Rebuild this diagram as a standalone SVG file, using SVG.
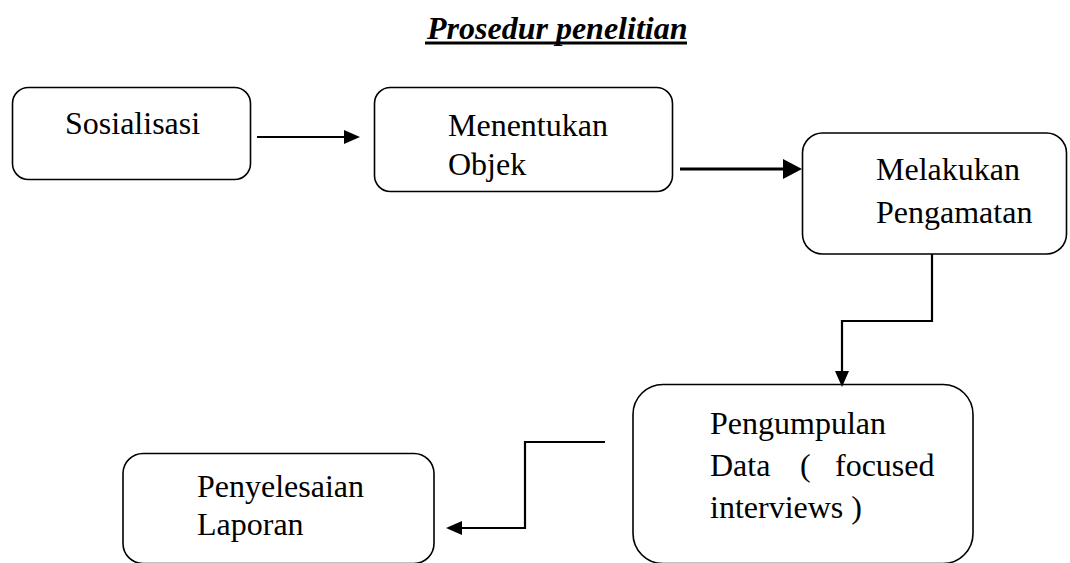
<svg xmlns="http://www.w3.org/2000/svg" width="1070" height="563" viewBox="0 0 1070 563">
<style>
.box{fill:#fff;stroke:#000;stroke-width:1.6}
.t{font-family:"Liberation Serif","Times New Roman",serif;font-size:32px;fill:#000}
.title{font-family:"Liberation Serif","Times New Roman",serif;font-size:32px;font-weight:bold;font-style:italic;fill:#000}
.c{fill:none;stroke:#000;stroke-width:2.2}
.c2{fill:none;stroke:#000;stroke-width:3.2}
</style>
<defs>
<marker id="ah" markerUnits="userSpaceOnUse" viewBox="0 0 16 14" markerWidth="16" markerHeight="14" refX="0" refY="7" orient="auto"><path d="M0,0 L16,7 L0,14 z" fill="#000"/></marker>
<marker id="ah2" markerUnits="userSpaceOnUse" viewBox="0 0 19 20" markerWidth="19" markerHeight="20" refX="0" refY="10" orient="auto"><path d="M0,0 L19,10 L0,20 z" fill="#000"/></marker>
</defs>
<rect width="1070" height="563" fill="#fff"/>
<g id="title">
<text class="title" x="427" y="39">Prosedur penelitian</text>
<line x1="425" y1="43" x2="687" y2="43" stroke="#000" stroke-width="3"/>
</g>
<g id="n1">
<rect class="box" x="12.5" y="87.5" width="238" height="92" rx="16"/>
<text class="t" x="65" y="134">Sosialisasi</text>
</g>
<g id="n2">
<rect class="box" x="374.5" y="87.5" width="298" height="104" rx="16"/>
<text class="t" x="448" y="136">Menentukan</text>
<text class="t" x="448" y="175">Objek</text>
</g>
<g id="n3">
<rect class="box" x="802.5" y="133" width="264" height="121" rx="20"/>
<text class="t" x="876" y="180">Melakukan</text>
<text class="t" x="876" y="223">Pengamatan</text>
</g>
<g id="n4">
<rect class="box" x="633" y="384.5" width="340" height="179" rx="30"/>
<text class="t" x="710" y="434">Pengumpulan</text>
<text class="t" x="710" y="476">Data</text>
<text class="t" x="800" y="476">(</text>
<text class="t" x="835" y="476">focused</text>
<text class="t" x="710" y="518">interviews )</text>
</g>
<g id="n5">
<rect class="box" x="123" y="453.5" width="311" height="110" rx="20"/>
<text class="t" x="197" y="497">Penyelesaian</text>
<text class="t" x="197" y="535">Laporan</text>
</g>
<g id="connectors">
<path class="c" d="M257,137 H344" marker-end="url(#ah)"/>
<path class="c2" d="M680,169 H783" marker-end="url(#ah2)"/>
<path class="c" d="M932,254 V321 H842 V371" marker-end="url(#ah)"/>
<path class="c" d="M605,442 H525 V528 H462" marker-end="url(#ah)"/>
</g>
</svg>
